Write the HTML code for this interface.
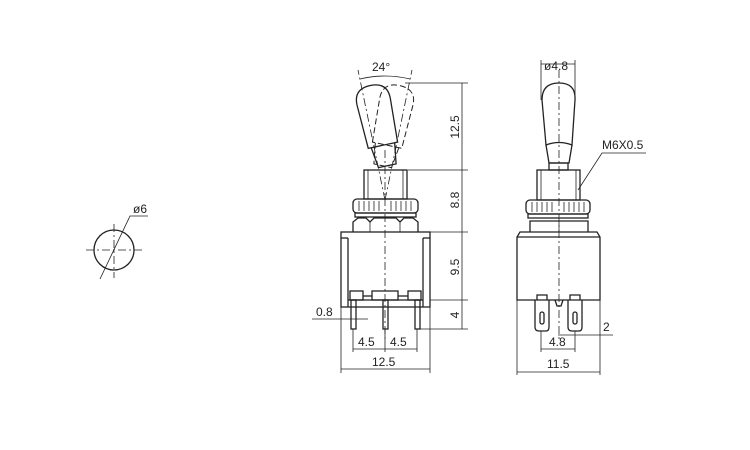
<!DOCTYPE html>
<html><head><meta charset="utf-8"><style>
html,body{margin:0;padding:0;background:#fff;}
svg{display:block;}
text{font-family:"Liberation Sans",sans-serif;font-size:12px;fill:#222;}
</style></head><body>
<svg width="750" height="450" viewBox="0 0 750 450" xmlns="http://www.w3.org/2000/svg">
<g fill="none" stroke="#222" stroke-width="1.3">
<circle cx="114" cy="250" r="20"/>
<g stroke-width="0.8" stroke-dasharray="8,3,2,3">
<line x1="86" y1="250" x2="142" y2="250"/><line x1="114" y1="224" x2="114" y2="278"/>
</g>
<polyline stroke-width="0.8" points="100,279 130,216 148,216"/>

<g transform="rotate(-12 385 155)">
<path d="M370,145 L368,100 Q368,84 385,84 Q402,84 402,100 L400,145 Z"/>
<path d="M373,145 L376,166 L394,166 L397,145"/>
</g>
<g transform="rotate(12 385 155)" stroke-dasharray="6,3" stroke-width="1">
<path d="M370,145 L368,100 Q368,84 385,84 Q402,84 402,100 L400,145 Z"/>
<path d="M373,145 L376,166 L394,166 L397,145"/>
</g>
<g stroke-width="0.8" stroke-dasharray="8,3,2,3">
<line x1="385" y1="200" x2="358" y2="70"/><line x1="385" y1="200" x2="412" y2="70"/>
<line x1="385" y1="150" x2="385" y2="340"/>
</g>
<path d="M360,79 Q385,73 410,79" stroke-width="0.8"/>
<rect x="364" y="170" width="43" height="29"/>
<line x1="368" y1="170" x2="368" y2="199" stroke-width="0.8"/><line x1="403" y1="170" x2="403" y2="199" stroke-width="0.8"/>
<rect x="353" y="199" width="65" height="14" rx="4"/>
<g stroke-width="0.8"><line x1="359" y1="201" x2="359" y2="211"/><line x1="364" y1="201" x2="364" y2="211"/><line x1="369" y1="201" x2="369" y2="211"/><line x1="374" y1="201" x2="374" y2="211"/><line x1="379" y1="201" x2="379" y2="211"/><line x1="391" y1="201" x2="391" y2="211"/><line x1="396" y1="201" x2="396" y2="211"/><line x1="401" y1="201" x2="401" y2="211"/><line x1="406" y1="201" x2="406" y2="211"/><line x1="411" y1="201" x2="411" y2="211"/></g>
<rect x="355" y="213" width="61" height="4"/>
<path d="M353,232 L353,222 L358,218 L366,218 L370,222 L374,218 L396,218 L400,222 L404,218 L413,218 L418,222 L418,232"/>
<line x1="370" y1="222" x2="370" y2="232" stroke-width="0.8"/><line x1="400" y1="222" x2="400" y2="232" stroke-width="0.8"/>
<rect x="341" y="232" width="89" height="75"/>
<line x1="348" y1="238" x2="348" y2="307"/><line x1="423" y1="238" x2="423" y2="307"/>
<line x1="341" y1="238" x2="348" y2="238"/><line x1="423" y1="238" x2="430" y2="238"/>
<line x1="348" y1="300" x2="423" y2="300"/>
<rect x="350" y="291" width="13" height="9"/><rect x="372" y="291" width="26" height="9"/><rect x="408" y="291" width="13" height="9"/>
<line x1="363" y1="296" x2="372" y2="296"/><line x1="398" y1="296" x2="408" y2="296"/>
<rect x="351" y="300" width="5" height="29"/><rect x="383" y="300" width="5" height="29"/><rect x="415" y="300" width="5" height="29"/>
</g>
<g fill="none" stroke="#222" stroke-width="0.8">
<line x1="405" y1="83" x2="468" y2="83"/><line x1="408" y1="170" x2="468" y2="170"/>
<line x1="430" y1="232" x2="468" y2="232"/><line x1="430" y1="300" x2="468" y2="300"/><line x1="420" y1="329" x2="468" y2="329"/>
<line x1="462" y1="83" x2="462" y2="329"/>
<line x1="312" y1="319" x2="368" y2="319"/>
<line x1="353" y1="329" x2="353" y2="352"/><line x1="385" y1="329" x2="385" y2="352"/><line x1="417" y1="329" x2="417" y2="352"/>
<line x1="353" y1="349" x2="417" y2="349"/>
<line x1="341" y1="307" x2="341" y2="373"/><line x1="430" y1="307" x2="430" y2="373"/>
<line x1="341" y1="369" x2="430" y2="369"/>
</g>
<text x="372" y="71">24°</text>
<text transform="translate(459,127) rotate(-90)" text-anchor="middle">12.5</text>
<text transform="translate(459,200) rotate(-90)" text-anchor="middle">8.8</text>
<text transform="translate(459,267) rotate(-90)" text-anchor="middle">9.5</text>
<text transform="translate(459,315) rotate(-90)" text-anchor="middle">4</text>
<text x="316" y="316">0.8</text>
<text x="358" y="346">4.5</text><text x="390" y="346">4.5</text>
<text x="372" y="366">12.5</text>
<text x="133" y="213">ø6</text>

<g fill="none" stroke="#222" stroke-width="1.3">
<path d="M546,145 L542,100 Q542,83 559,83 Q576,83 575,100 L572,145 Q559,140 546,145 Z"/>
<path d="M546,145 L549,163 L569,163 L572,145"/>
<rect x="549" y="163" width="19" height="7"/>
<rect x="537" y="170" width="43" height="30"/>
<line x1="541" y1="170" x2="541" y2="200" stroke-width="0.8"/><line x1="576" y1="170" x2="576" y2="200" stroke-width="0.8"/>
<rect x="526" y="200" width="64" height="14" rx="4"/>
<g stroke-width="0.8"><line x1="532" y1="202" x2="532" y2="212"/><line x1="537" y1="202" x2="537" y2="212"/><line x1="542" y1="202" x2="542" y2="212"/><line x1="547" y1="202" x2="547" y2="212"/><line x1="552" y1="202" x2="552" y2="212"/><line x1="564" y1="202" x2="564" y2="212"/><line x1="569" y1="202" x2="569" y2="212"/><line x1="574" y1="202" x2="574" y2="212"/><line x1="579" y1="202" x2="579" y2="212"/><line x1="584" y1="202" x2="584" y2="212"/></g>
<rect x="528" y="214" width="60" height="4"/>
<path d="M530,232 L530,221 L588,221 L588,232"/><line x1="559" y1="221" x2="559" y2="232" stroke-width="0.8"/>
<path d="M517,300 L517,237 L520,232 L597,232 L600,237 L600,300 Z"/>
<line x1="517" y1="237" x2="600" y2="237"/>
<path d="M535,300 L535,327 Q535,331 539,331 L546,331 Q549,331 549,327 L549,300"/>
<path d="M568,300 L568,327 Q568,331 572,331 L579,331 Q582,331 582,327 L582,300"/>
<rect x="540" y="312" width="4" height="12" rx="2"/><rect x="573" y="312" width="4" height="12" rx="2"/>
<path d="M537,300 L537,295 L547,295 L547,300 M570,300 L570,295 L580,295 L580,300 M555,300 L557,306 L561,306 L563,300"/>
</g>
<g fill="none" stroke="#222" stroke-width="0.8">
<line x1="559" y1="70" x2="559" y2="340" stroke-dasharray="8,3,2,3"/>
<line x1="541" y1="60" x2="541" y2="100"/><line x1="575" y1="60" x2="575" y2="100"/>
<line x1="541" y1="64" x2="575" y2="64"/>
<polyline points="578,190 602,153 646,153"/>
<line x1="558" y1="335" x2="613" y2="335"/>
<line x1="541" y1="331" x2="541" y2="352"/><line x1="575" y1="331" x2="575" y2="352"/>
<line x1="541" y1="349" x2="575" y2="349"/>
<line x1="517" y1="300" x2="517" y2="375"/><line x1="600" y1="300" x2="600" y2="375"/>
<line x1="517" y1="372" x2="600" y2="372"/>
</g>
<text x="544" y="70">ø4.8</text>
<text x="602" y="149">M6X0.5</text>
<text x="603" y="331">2</text>
<text x="549" y="346">4.8</text>
<text x="547" y="368">11.5</text>
</svg>
</body></html>
